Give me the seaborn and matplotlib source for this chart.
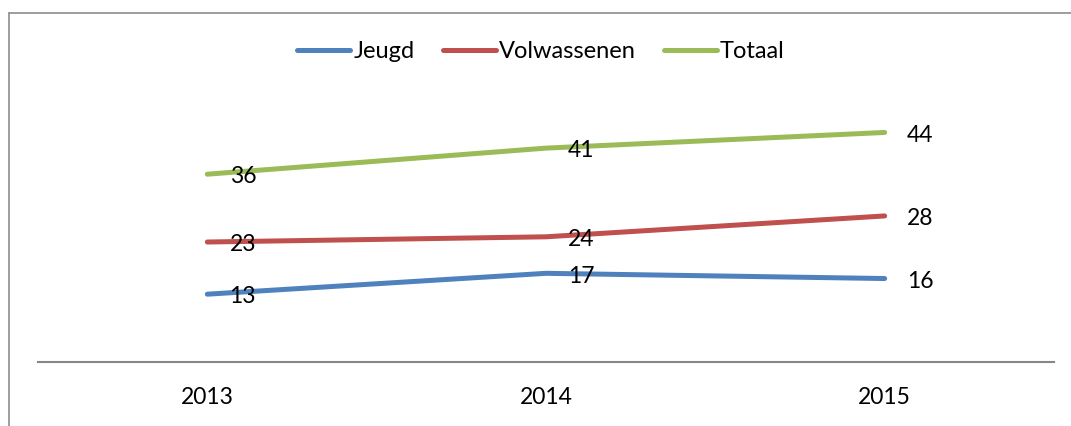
import pandas as pd
import matplotlib.pyplot as plt
import seaborn as sns
from matplotlib.lines import Line2D

# data
years = ['2013', '2014', '2015']
jeugd = [13, 17, 16]
volwassenen = [23, 24, 28]
totaal = [36, 41, 44]
series_names = ['Jeugd', 'Volwassenen', 'Totaal']
colors = ['#4F81BD', '#C0504D', '#9BBB59']


def main():
    rows = []
    for name, vals in zip(series_names, [jeugd, volwassenen, totaal]):
        for i, v in enumerate(vals):
            rows.append({'pos': i, 'jaar': years[i], 'reeks': name, 'waarde': v})
    df = pd.DataFrame(rows)

    sns.set_style('white')
    plt.rcParams['font.family'] = ['Lato', 'DejaVu Sans']
    plt.rcParams['font.size'] = 16

    fig = plt.figure(figsize=(10.71, 4.26), dpi=100)
    ax = fig.add_axes([38 / 1071, 1 - 362 / 426, 1016 / 1071, 313 / 426])

    sns.lineplot(data=df, x='pos', y='waarde', hue='reeks', palette=colors,
                 hue_order=series_names, linewidth=3.6, ax=ax, legend=False,
                 solid_capstyle='round')

    # data labels rechts van het punt
    for name, vals in zip(series_names, [jeugd, volwassenen, totaal]):
        for i, v in enumerate(vals):
            ax.annotate(str(v), (i, v), xytext=(16, -2), textcoords='offset points',
                        ha='left', va='center', fontsize=16.5, color='black')

    ax.set_xlim(-0.5, 2.5)
    ax.set_ylim(0, 60)
    ax.set_xticks(range(len(years)))
    ax.set_xticklabels(years)
    ax.set_yticks([])
    ax.set_xlabel('')
    ax.set_ylabel('')
    ax.tick_params(axis='x', length=0, pad=18, labelsize=16.5, labelcolor='black')
    for s in ['top', 'left', 'right']:
        ax.spines[s].set_visible(False)
    ax.spines['bottom'].set_color('#868686')
    ax.spines['bottom'].set_linewidth(1.5)

    handles = [Line2D([0], [0], color=c, linewidth=3.6, solid_capstyle='round') for c in colors]
    fig.legend(handles, series_names, loc='center', ncol=3,
               bbox_to_anchor=(541 / 1071, 1 - 52 / 426), frameon=False,
               handlelength=2.25, handletextpad=0.12, columnspacing=1.2,
               fontsize=17, labelcolor='black')

    # rand van de grafiek (boven en links)
    fig.add_artist(Line2D([9 / 1071, 1.0], [1 - 13 / 426, 1 - 13 / 426],
                          color='#8c8c8c', linewidth=1.2, transform=fig.transFigure))
    fig.add_artist(Line2D([9 / 1071, 9 / 1071], [0.0, 1 - 13 / 426],
                          color='#8c8c8c', linewidth=1.2, transform=fig.transFigure))

    fig.savefig('out.png', dpi=100)
    plt.close(fig)


if __name__ == "__main__":
    main()
